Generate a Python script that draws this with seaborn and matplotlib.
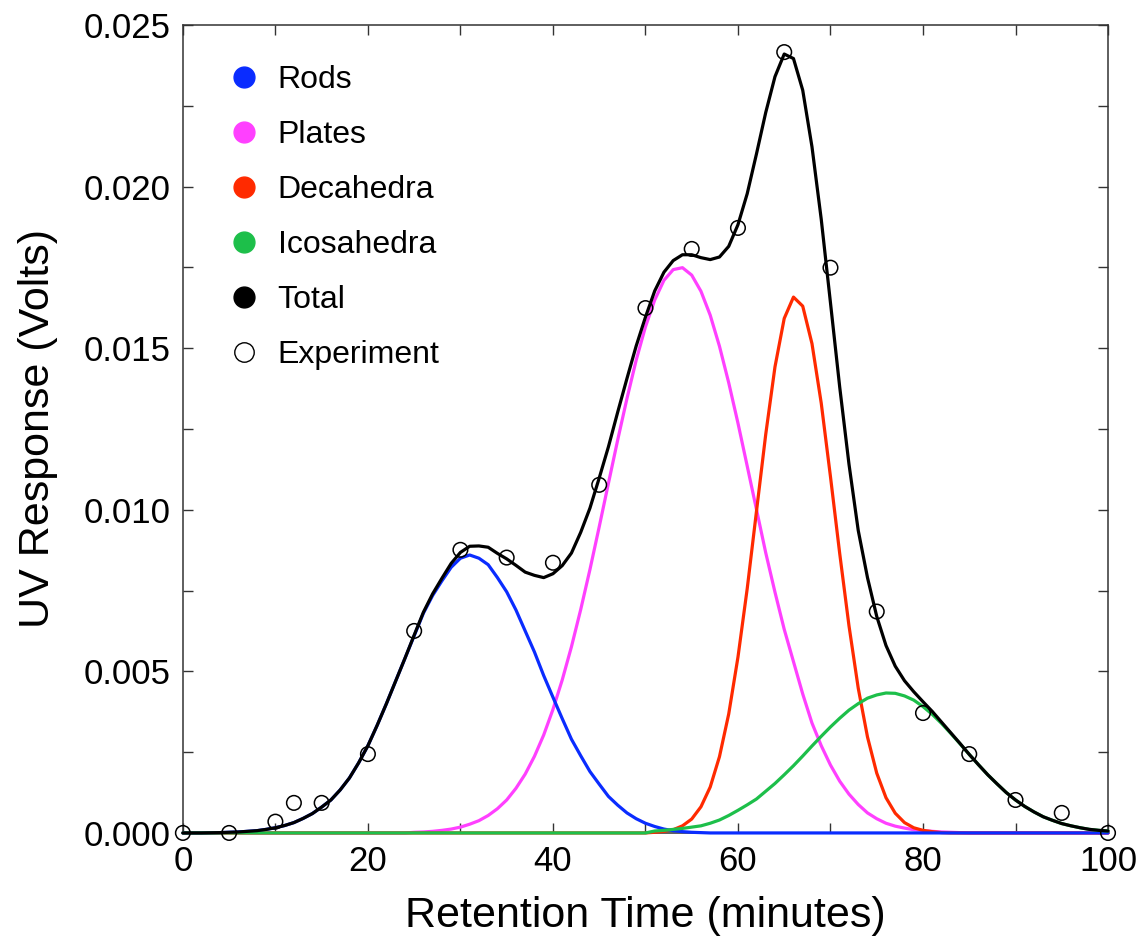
import matplotlib
matplotlib.use("Agg")
import matplotlib.pyplot as plt
from matplotlib.lines import Line2D
from matplotlib.ticker import MultipleLocator, FormatStrFormatter
import seaborn as sns

# retention time grid (minutes), one reading per minute
time = list(range(0, 101))

rods = [0.0, 0.0, 0.0, 0.000005, 0.00001, 0.00002, 0.00003, 0.00005, 0.00007, 0.00011,
        0.00016, 0.00023, 0.00032, 0.00045, 0.0006, 0.0008, 0.00102, 0.00133, 0.0017, 0.00217,
        0.0027, 0.00333, 0.0040, 0.0047, 0.0054, 0.0061, 0.0068, 0.00735, 0.0078, 0.00822,
        0.0085, 0.0086, 0.0085, 0.0083, 0.0079, 0.00746, 0.0069, 0.00625, 0.0056, 0.00487,
        0.0042, 0.00354, 0.0029, 0.00239, 0.0019, 0.00151, 0.00113, 0.00086, 0.00062, 0.00044,
        0.0003, 0.0002, 0.00012, 0.00007, 0.00004, 0.00002, 0.00001, 0.0, 0.0, 0.0,
        0.0, 0.0, 0.0, 0.0, 0.0, 0.0, 0.0, 0.0, 0.0, 0.0,
        0.0, 0.0, 0.0, 0.0, 0.0, 0.0, 0.0, 0.0, 0.0, 0.0,
        0.0, 0.0, 0.0, 0.0, 0.0, 0.0, 0.0, 0.0, 0.0, 0.0,
        0.0, 0.0, 0.0, 0.0, 0.0, 0.0, 0.0, 0.0, 0.0, 0.0,
        0.0]

plates = [0.0, 0.0, 0.0, 0.0, 0.0, 0.0, 0.0, 0.0, 0.0, 0.0,
          0.0, 0.0, 0.0, 0.0, 0.0, 0.0, 0.0, 0.0, 0.0, 0.0,
          0.0, 0.0, 0.0, 0.0, 0.0, 0.00002, 0.00003, 0.00005, 0.00008, 0.00012,
          0.00018, 0.00027, 0.00038, 0.00054, 0.00075, 0.00102, 0.00138, 0.00182, 0.00237, 0.00303,
          0.00382, 0.00473, 0.00576, 0.00691, 0.00815, 0.00947, 0.01082, 0.01216, 0.01344, 0.01463,
          0.01566, 0.01649, 0.0171, 0.01743, 0.01749, 0.01726, 0.01676, 0.01602, 0.01506, 0.01393,
          0.01268, 0.01135, 0.01001, 0.00867, 0.00745, 0.0063, 0.0053, 0.0043, 0.0034, 0.0027,
          0.0021, 0.0016, 0.0012, 0.00088, 0.00062, 0.00044, 0.0003, 0.00021, 0.00015, 0.0001,
          0.00007, 0.00005, 0.00003, 0.00002, 0.00001, 0.0, 0.0, 0.0, 0.0, 0.0,
          0.0, 0.0, 0.0, 0.0, 0.0, 0.0, 0.0, 0.0, 0.0, 0.0,
          0.0]

decahedra = [0.0, 0.0, 0.0, 0.0, 0.0, 0.0, 0.0, 0.0, 0.0, 0.0,
             0.0, 0.0, 0.0, 0.0, 0.0, 0.0, 0.0, 0.0, 0.0, 0.0,
             0.0, 0.0, 0.0, 0.0, 0.0, 0.0, 0.0, 0.0, 0.0, 0.0,
             0.0, 0.0, 0.0, 0.0, 0.0, 0.0, 0.0, 0.0, 0.0, 0.0,
             0.0, 0.0, 0.0, 0.0, 0.0, 0.0, 0.0, 0.0, 0.0, 0.0,
             0.0, 0.00002, 0.00005, 0.0001, 0.00022, 0.00043, 0.00081, 0.00142, 0.00236, 0.00368,
             0.00544, 0.00756, 0.00995, 0.01233, 0.01442, 0.01592, 0.01658, 0.0163, 0.01514, 0.0133,
             0.01102, 0.00864, 0.00641, 0.00448, 0.00297, 0.00185, 0.00109, 0.00061, 0.00032, 0.00016,
             0.00008, 0.00004, 0.00001, 0.0, 0.0, 0.0, 0.0, 0.0, 0.0, 0.0,
             0.0, 0.0, 0.0, 0.0, 0.0, 0.0, 0.0, 0.0, 0.0, 0.0,
             0.0]

icosahedra = [0.0, 0.0, 0.0, 0.0, 0.0, 0.0, 0.0, 0.0, 0.0, 0.0,
              0.0, 0.0, 0.0, 0.0, 0.0, 0.0, 0.0, 0.0, 0.0, 0.0,
              0.0, 0.0, 0.0, 0.0, 0.0, 0.0, 0.0, 0.0, 0.0, 0.0,
              0.0, 0.0, 0.0, 0.0, 0.0, 0.0, 0.0, 0.0, 0.0, 0.0,
              0.0, 0.0, 0.0, 0.0, 0.0, 0.0, 0.0, 0.0, 0.0, 0.0,
              0.0, 0.00006, 0.00008, 0.00011, 0.00014, 0.00018, 0.00022, 0.0003, 0.0004, 0.00054,
              0.0007, 0.00087, 0.00105, 0.00129, 0.00153, 0.0018, 0.00208, 0.00238, 0.00269, 0.00299,
              0.00328, 0.00355, 0.0038, 0.004, 0.00417, 0.00427, 0.00433, 0.00432, 0.00424, 0.00411,
              0.00391, 0.00367, 0.00339, 0.00308, 0.00276, 0.00243, 0.00211, 0.0018, 0.00152, 0.00125,
              0.00102, 0.00082, 0.00065, 0.0005, 0.00039, 0.00029, 0.00022, 0.00016, 0.00011, 0.00008,
              0.00006]

total = [0.0, 0.0, 0.0, 0.000005, 0.00001, 0.00002, 0.00003, 0.00005, 0.00007, 0.00011,
         0.00016, 0.00023, 0.00032, 0.00045, 0.0006, 0.0008, 0.00102, 0.00133, 0.0017, 0.00217,
         0.0027, 0.00333, 0.0040, 0.0047, 0.0054, 0.00612, 0.00683, 0.0074, 0.00788, 0.00834,
         0.00868, 0.00887, 0.00888, 0.00884, 0.00865, 0.00848, 0.00828, 0.00807, 0.00797, 0.0079,
         0.00802, 0.00827, 0.00866, 0.0093, 0.01005, 0.01098, 0.01195, 0.01302, 0.01406, 0.01507,
         0.01596, 0.01677, 0.01735, 0.01771, 0.01789, 0.01789, 0.0178, 0.01774, 0.01782, 0.01815,
         0.01882, 0.01978, 0.02101, 0.02229, 0.0234, 0.0241, 0.02396, 0.02298, 0.02123, 0.01899,
         0.0164, 0.01379, 0.01141, 0.00936, 0.0079, 0.0067, 0.0058, 0.00516, 0.00471, 0.00437,
         0.00406, 0.00376, 0.00343, 0.0031, 0.00277, 0.00243, 0.00211, 0.0018, 0.00152, 0.00125,
         0.00102, 0.00082, 0.00065, 0.0005, 0.00039, 0.00029, 0.00022, 0.00016, 0.00011, 0.00008,
         0.00006]

# measured points
exp_time = [0, 5, 10, 12, 15, 20, 25, 30, 35, 40, 45, 50, 55, 60, 65, 70, 75, 80, 85, 90, 95, 100]
exp_resp = [0.0, 0.0, 0.00035, 0.00093, 0.00093, 0.00244, 0.00625, 0.00876, 0.00852, 0.00836,
            0.01077, 0.01624, 0.01807, 0.01872, 0.02416, 0.01749, 0.00685, 0.00371, 0.00244,
            0.00102, 0.00062, 0.0]

c_rods = "#0a2cff"
c_plates = "#ff40ff"
c_deca = "#ff2a00"
c_ico = "#1dbf4a"

sns.set_theme(style="ticks")
plt.rcParams['font.family'] = ['Liberation Sans', 'DejaVu Sans']
plt.rcParams['text.color'] = 'black'
plt.rcParams['axes.labelcolor'] = 'black'
plt.rcParams['xtick.color'] = 'black'
plt.rcParams['ytick.color'] = 'black'

fig = plt.figure(figsize=(11.43, 9.38), dpi=100)
ax = fig.add_axes([0.160, 0.112, 0.8094, 0.8614])

lw = 2.3
# component curves sit above the spines so the zero baseline shows in colour
sns.lineplot(x=time, y=plates, color=c_plates, lw=lw, ax=ax, sort=False, estimator=None, clip_on=False, zorder=3)
sns.lineplot(x=time, y=decahedra, color=c_deca, lw=lw, ax=ax, sort=False, estimator=None, clip_on=False, zorder=3)
sns.lineplot(x=time, y=rods, color=c_rods, lw=lw, ax=ax, sort=False, estimator=None, clip_on=False, zorder=3)
sns.lineplot(x=time, y=icosahedra, color=c_ico, lw=lw, ax=ax, sort=False, estimator=None, clip_on=False, zorder=3)
sns.lineplot(x=time, y=total, color="black", lw=lw, ax=ax, sort=False, estimator=None, clip_on=False, zorder=4)
sns.scatterplot(x=exp_time, y=exp_resp, marker="o", s=110, facecolors="none",
                edgecolor="black", linewidth=1.1, ax=ax, clip_on=False, zorder=5)

ax.set_xlim(0, 100)
ax.set_ylim(0, 0.025)
ax.xaxis.set_major_locator(MultipleLocator(20))
ax.xaxis.set_minor_locator(MultipleLocator(10))
ax.yaxis.set_major_locator(MultipleLocator(0.005))
ax.yaxis.set_minor_locator(MultipleLocator(0.0025))
ax.yaxis.set_major_formatter(FormatStrFormatter('%.3f'))
ax.tick_params(which="both", direction="in", top=True, right=True,
               length=7, width=1.0, color="#333333")
ax.tick_params(which="major", labelsize=25, pad=9)
for s in ax.spines.values():
    s.set_linewidth(1.1)
    s.set_color("#333333")

ax.set_xlabel("Retention Time (minutes)", fontsize=31, labelpad=13)
ax.set_ylabel("UV Response (Volts)", fontsize=31, labelpad=18)

handles = [
    Line2D([], [], ls="none", marker="o", ms=15, mfc=c_rods, mec=c_rods),
    Line2D([], [], ls="none", marker="o", ms=15, mfc=c_plates, mec=c_plates),
    Line2D([], [], ls="none", marker="o", ms=15, mfc=c_deca, mec=c_deca),
    Line2D([], [], ls="none", marker="o", ms=15, mfc=c_ico, mec=c_ico),
    Line2D([], [], ls="none", marker="o", ms=15, mfc="black", mec="black"),
    Line2D([], [], ls="none", marker="o", ms=14, mfc="white", mec="black", mew=1.0),
]
labels = ["Rods", "Plates", "Decahedra", "Icosahedra", "Total", "Experiment"]
ax.legend(handles, labels, loc="upper left", bbox_to_anchor=(0.035, 0.966),
          frameon=False, fontsize=23, handlelength=1.0, handletextpad=0.55,
          labelspacing=0.78, borderaxespad=0)

fig.savefig("out.png", dpi=100)
